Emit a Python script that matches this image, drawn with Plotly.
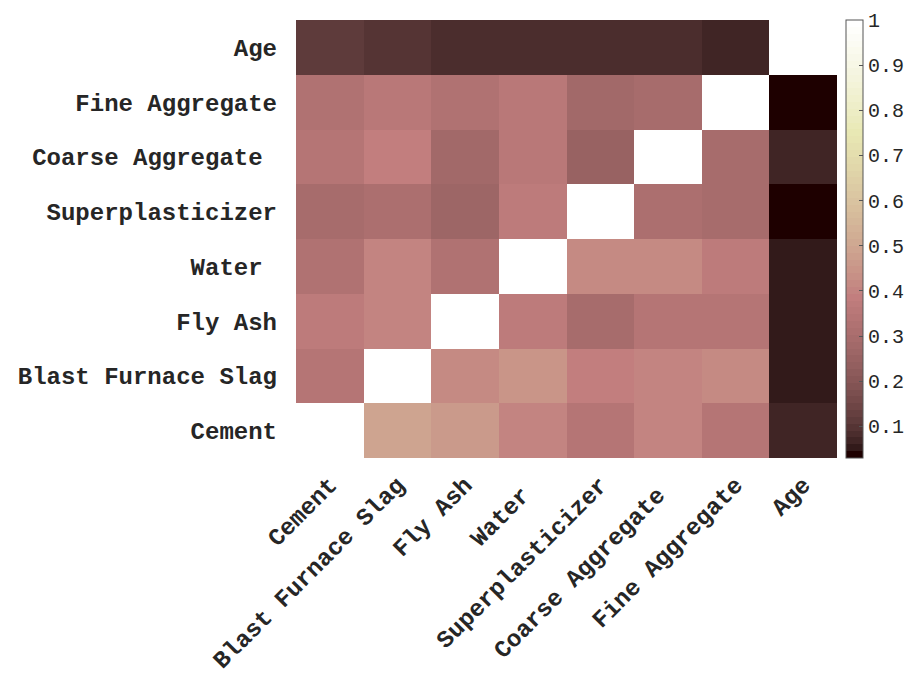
import numpy as np
import plotly.graph_objects as go

# Variables of the concrete dataset (bottom-to-top order on the y axis)
variables = ["Cement", "Blast Furnace Slag", "Fly Ash", "Water\u00a0",
             "Superplasticizer", "Coarse Aggregate\u00a0", "Fine Aggregate", "Age"]

# Correlation-style matrix, one list per row (Cement row first, Age row last)
row_cement = [1.00, 0.49, 0.46, 0.40, 0.34, 0.40, 0.34, 0.068]
row_slag = [0.336, 1.00, 0.42, 0.44, 0.38, 0.40, 0.415, 0.052]
row_flyash = [0.374, 0.40, 1.00, 0.374, 0.301, 0.336, 0.336, 0.052]
row_water = [0.326, 0.40, 0.321, 1.00, 0.415, 0.415, 0.368, 0.052]
row_superplast = [0.301, 0.306, 0.272, 0.374, 1.00, 0.306, 0.291, 0.03]
row_coarse = [0.336, 0.385, 0.286, 0.352, 0.245, 1.00, 0.296, 0.068]
row_fine = [0.326, 0.363, 0.321, 0.352, 0.286, 0.301, 1.00, 0.03]
row_age = [0.113, 0.098, 0.083, 0.083, 0.083, 0.083, 0.068, 1.00]

z = [row_cement, row_slag, row_flyash, row_water,
     row_superplast, row_coarse, row_fine, row_age]

cbar_ticks = [0.1, 0.2, 0.3, 0.4, 0.5, 0.6, 0.7, 0.8, 0.9, 1.0]
cbar_labels = ["0.1", "0.2", "0.3", "0.4", "0.5", "0.6", "0.7", "0.8", "0.9", "1"]

FIG_W, FIG_H = 913, 673


def pink_map(m=64):
    """MATLAB-style 'pink' colormap: sqrt((2*gray + hot)/3)."""
    n = int(3 * m / 8)
    r = np.concatenate([np.arange(1, n + 1) / n, np.ones(m - n)])
    g = np.concatenate([np.zeros(n), np.arange(1, n + 1) / n, np.ones(m - 2 * n)])
    b = np.concatenate([np.zeros(2 * n), np.arange(1, m - 2 * n + 1) / (m - 2 * n)])
    hot = np.stack([r, g, b], axis=1)
    gray = (np.arange(m) / (m - 1))[:, None]
    return np.sqrt((2 * gray + hot) / 3)


# Stepped colorscale so each of the 64 colormap entries is a flat band
cmap = pink_map(64)
colorscale = []
for i, c in enumerate(cmap):
    col = "rgb(%d,%d,%d)" % tuple(np.round(c * 255).astype(int))
    colorscale.append([i / 64, col])
    colorscale.append([(i + 1) / 64, col])

font_family = "Courier New, Liberation Mono, monospace"
text_color = "#262626"

fig = go.Figure(
    go.Heatmap(
        z=z,
        x=list(range(len(variables))),
        y=list(range(len(variables))),
        colorscale=colorscale,
        zmin=float(np.min(z)),
        zmax=1.0,
        xgap=0,
        ygap=0,
        colorbar=dict(
            xref="container",
            x=846 / FIG_W,
            xanchor="left",
            xpad=0,
            y=0.5,
            yanchor="middle",
            len=1.0,
            lenmode="fraction",
            thickness=17,
            ypad=0,
            outlinecolor="#555555",
            outlinewidth=1,
            tickvals=cbar_ticks,
            ticktext=cbar_labels,
            ticks="inside",
            ticklen=4,
            tickcolor="#555555",
            tickfont=dict(family=font_family, size=20, color=text_color),
        ),
    )
)

fig.update_layout(
    width=FIG_W,
    height=FIG_H,
    margin=dict(l=296, r=76, t=20, b=215),
    paper_bgcolor="white",
    plot_bgcolor="white",
    font=dict(family=font_family, color=text_color),
    xaxis=dict(
        tickmode="array",
        tickvals=list(range(len(variables))),
        ticktext=variables,
        tickangle=-45,
        tickfont=dict(family=font_family, size=24, color=text_color, weight="bold"),
        showgrid=False,
        zeroline=False,
        showline=False,
        ticks="",
        ticklabelstandoff=7,
        automargin=False,
        range=[-0.5, 7.5],
    ),
    yaxis=dict(
        tickmode="array",
        tickvals=list(range(len(variables))),
        ticktext=variables,
        tickfont=dict(family=font_family, size=24, color=text_color, weight="bold"),
        showgrid=False,
        zeroline=False,
        showline=False,
        ticks="",
        ticklabelstandoff=18,
        automargin=False,
        range=[-0.5, 7.5],
    ),
)

fig.write_html("out.html")
